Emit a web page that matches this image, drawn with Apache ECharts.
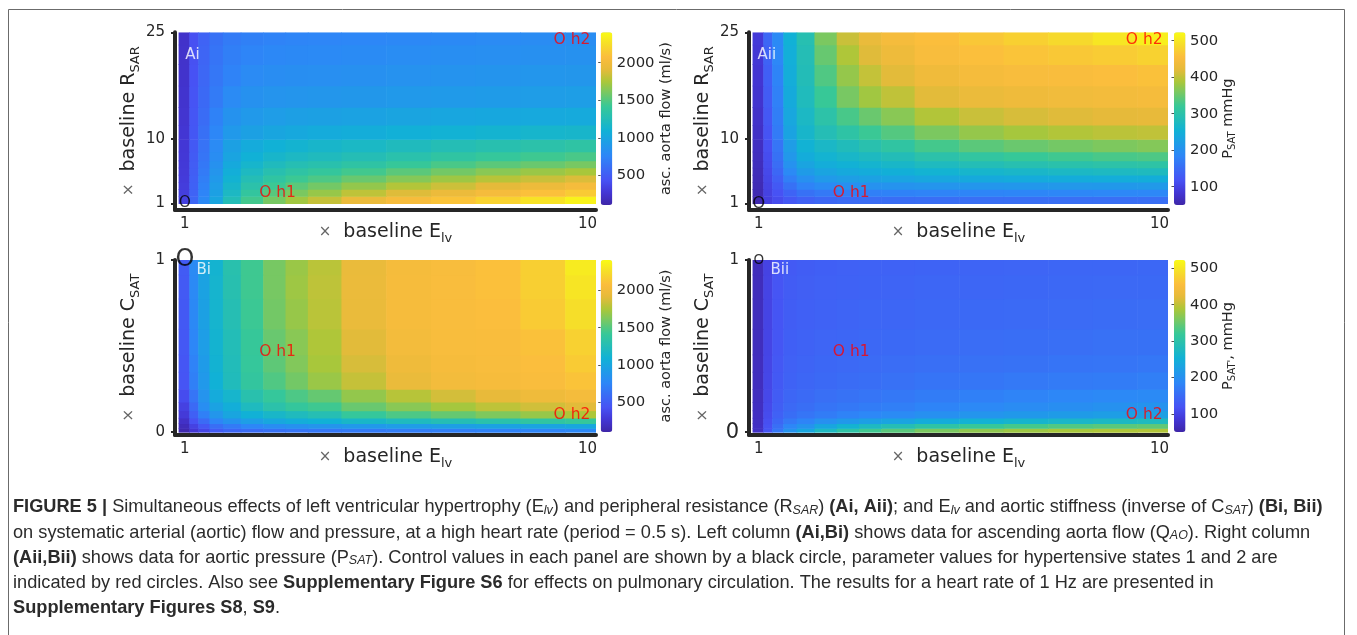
<!DOCTYPE html>
<html><head><meta charset="utf-8">
<script src="https://cdn.jsdelivr.net/npm/echarts@6/dist/echarts.min.js"></script>
<style>html,body{margin:0;padding:0;background:#fff}#c{width:1357px;height:635px}</style>
</head><body><div id="c"></div>
<script>
// ---------------- data ----------------
const xTicks = [1, 10];
const yTicksA = [1, 10, 25];
const yTicksB = [0, 1];
const flowTicks = [500, 1000, 1500, 2000];
const presTicks = [100, 200, 300, 400, 500];
const flowRange = [104, 2405];
const presRange = [50, 523];

// column centres (x baseline E_lv)
const E = [1, 1.2, 1.4, 1.7, 2, 2.5, 3, 3.5, 4, 5, 6, 7, 8, 9, 10];
// row centres (x baseline R_SAR) for panels A
const R = [1.5, 2.5, 3.5, 4.5, 5.5, 6.5, 7.5, 9, 11, 13, 16, 19, 22, 24.5];
// row centres (x baseline C_SAT) for panels B
const C = [0.01, 0.035, 0.065, 0.1, 0.15, 0.2, 0.3, 0.4, 0.5, 0.7, 0.85, 0.98];

// Ai: ascending aorta flow (ml/s), rows = R (bottom to top), cols = E
const flowAi = [
  [330, 560, 780, 1000, 1250, 1450, 1600, 1720, 1820, 1950, 2040, 2110, 2190, 2270, 2360],
  [320, 540, 750, 960, 1190, 1380, 1510, 1610, 1690, 1800, 1890, 1960, 2030, 2090, 2150],
  [310, 530, 730, 930, 1150, 1320, 1430, 1520, 1590, 1680, 1770, 1840, 1910, 1970, 2030],
  [300, 520, 710, 900, 1110, 1260, 1360, 1430, 1480, 1560, 1640, 1710, 1780, 1830, 1880],
  [290, 510, 690, 870, 1070, 1200, 1290, 1350, 1390, 1450, 1520, 1590, 1650, 1700, 1740],
  [285, 500, 670, 840, 1030, 1140, 1220, 1270, 1300, 1350, 1410, 1470, 1520, 1560, 1600],
  [280, 490, 650, 810, 990, 1090, 1150, 1190, 1220, 1260, 1310, 1360, 1400, 1440, 1470],
  [275, 480, 640, 790, 960, 1040, 1090, 1120, 1150, 1180, 1220, 1260, 1290, 1320, 1350],
  [265, 465, 620, 760, 900, 960, 1000, 1020, 1040, 1060, 1080, 1100, 1120, 1140, 1150],
  [255, 455, 600, 730, 850, 900, 930, 950, 960, 975, 990, 1005, 1015, 1025, 1035],
  [245, 445, 580, 690, 790, 840, 860, 870, 880, 890, 900, 910, 920, 930, 940],
  [240, 435, 565, 665, 740, 790, 810, 820, 825, 835, 845, 855, 865, 875, 880],
  [235, 425, 550, 645, 710, 750, 770, 780, 785, 795, 805, 815, 825, 835, 840],
  [230, 420, 540, 630, 690, 720, 740, 750, 755, 760, 770, 780, 790, 800, 810]
];
// Aii: aortic pressure P_SAT (mmHg), rows = R, cols = E
const presAii = [
  [56, 95, 110, 125, 137, 145, 150, 152, 153, 154, 155, 155, 155, 155, 155],
  [58, 98, 118, 140, 158, 168, 174, 177, 179, 181, 183, 184, 185, 186, 186],
  [60, 101, 127, 158, 180, 192, 200, 203, 205, 207, 209, 211, 212, 213, 214],
  [62, 104, 136, 175, 200, 215, 222, 227, 231, 236, 240, 243, 245, 246, 247],
  [64, 107, 145, 190, 218, 232, 240, 245, 250, 257, 263, 268, 272, 275, 278],
  [66, 110, 152, 203, 232, 246, 254, 260, 267, 277, 286, 293, 298, 302, 305],
  [68, 112, 158, 212, 245, 258, 267, 276, 285, 300, 311, 319, 325, 330, 333],
  [70, 115, 163, 220, 255, 270, 282, 295, 308, 328, 341, 350, 356, 361, 365],
  [73, 120, 170, 230, 265, 288, 305, 322, 337, 360, 375, 385, 392, 397, 400],
  [76, 125, 174, 236, 272, 302, 330, 350, 368, 392, 405, 413, 418, 422, 425],
  [80, 130, 178, 242, 280, 320, 358, 382, 400, 420, 430, 436, 440, 443, 445],
  [82, 135, 182, 246, 285, 335, 375, 402, 420, 437, 445, 450, 453, 456, 460],
  [85, 140, 186, 249, 288, 348, 390, 418, 435, 450, 458, 463, 467, 472, 478],
  [88, 145, 190, 252, 292, 360, 405, 428, 445, 457, 466, 476, 486, 500, 510]
];
// Bi: ascending aorta flow (ml/s), rows = C (bottom to top), cols = E
const flowBi = [
  [130, 265, 360, 490, 560, 600, 630, 650, 665, 680, 700, 715, 730, 750, 770],
  [170, 340, 470, 610, 690, 760, 810, 840, 870, 900, 930, 950, 970, 990, 1010],
  [220, 430, 590, 750, 850, 940, 1010, 1060, 1090, 1160, 1210, 1260, 1310, 1360, 1400],
  [290, 520, 720, 880, 1000, 1090, 1160, 1220, 1270, 1400, 1480, 1550, 1620, 1690, 1750],
  [335, 585, 815, 975, 1070, 1210, 1320, 1390, 1440, 1560, 1650, 1730, 1800, 1850, 1900],
  [400, 650, 860, 1040, 1140, 1300, 1400, 1480, 1550, 1680, 1780, 1860, 1930, 1980, 2020],
  [450, 720, 900, 1090, 1230, 1380, 1490, 1590, 1700, 1820, 1940, 2010, 2040, 2060, 2110],
  [460, 740, 920, 1110, 1240, 1400, 1530, 1630, 1740, 1870, 1980, 2040, 2050, 2080, 2150],
  [470, 760, 940, 1120, 1250, 1410, 1560, 1650, 1760, 1900, 2010, 2050, 2060, 2100, 2180],
  [480, 780, 960, 1130, 1270, 1430, 1590, 1690, 1790, 1940, 2040, 2060, 2080, 2150, 2250],
  [485, 785, 970, 1130, 1290, 1440, 1600, 1710, 1800, 1950, 2040, 2060, 2090, 2170, 2290],
  [490, 790, 1000, 1120, 1300, 1440, 1600, 1700, 1790, 1940, 2030, 2050, 2090, 2170, 2320]
];
// Bii: aortic pressure (mmHg), rows = C, cols = E
const presBii = [
  [73, 122, 165, 205, 235, 275, 305, 325, 340, 360, 372, 380, 386, 390, 392],
  [72, 117, 155, 185, 205, 235, 258, 275, 288, 305, 318, 328, 335, 340, 344],
  [71, 114, 145, 168, 182, 200, 213, 224, 232, 245, 255, 262, 268, 273, 277],
  [70, 110, 137, 153, 162, 172, 180, 186, 191, 200, 207, 213, 218, 222, 226],
  [69, 108, 133, 147, 154, 161, 166, 171, 175, 182, 188, 193, 197, 201, 204],
  [68, 106, 130, 143, 149, 155, 159, 163, 166, 172, 177, 181, 185, 188, 190],
  [67, 104, 127, 139, 144, 148, 151, 154, 157, 161, 164, 167, 170, 172, 175],
  [67, 103, 125, 137, 141, 145, 147, 150, 152, 155, 157, 159, 161, 163, 165],
  [66, 102, 123, 135, 139, 142, 144, 146, 148, 150, 152, 154, 155, 157, 158],
  [66, 101, 122, 132, 136, 139, 141, 143, 144, 146, 148, 149, 150, 151, 152],
  [65, 101, 121, 130, 134, 137, 139, 140, 141, 143, 144, 145, 146, 147, 148],
  [65, 100, 120, 128, 132, 135, 137, 138, 139, 140, 141, 142, 143, 144, 145]
];
// control (black circle) and hypertensive states h1, h2 (red)
const controlA = [1, 1];
const h1A = [2.65, 2.45];
const h2A = [9.23, 23.9];
const controlB = [1, 1];
const h1B = [2.65, 0.465];
const h2B = [9.23, 0.1];

// ---------------- styling / layout ----------------
const parula = ['#3e26a8', '#4336d4', '#4752f4', '#3a6cf5', '#2d87f7', '#1f9ce7', '#11b1d6', '#24bdb6',
                '#37c897', '#71c868', '#abc739', '#e6ba3a', '#fbbd3d', '#f6dc2a', '#f9fb15'];
const FONT = 'DejaVu Sans';
const INK = '#262626';
const X_MIN = 0.78, X_MAX = 10.19, X_LO = 0.86;

function edges(c, lo, hi) {
  const e = [lo];
  for (let i = 0; i < c.length - 1; i++) e.push((c[i] + c[i + 1]) / 2);
  e.push(hi);
  return e;
}
function cells(xs, ys, M, xlo, xhi, ylo, yhi) {
  const ex = edges(xs, xlo, xhi), ey = edges(ys, ylo, yhi), out = [];
  for (let j = 0; j < ys.length; j++)
    for (let i = 0; i < xs.length; i++)
      out.push([ex[i], ex[i + 1], ey[j], ey[j + 1], M[j][i]]);
  return out;
}

const panels = [
  {key: 'Ai',  grid: {left: 175, top: 32.3, width: 421, height: 177.7}, y: [0.06, 25], yTicks: yTicksA, yRows: R, yLo: 1, yHi: 25, M: flowAi, range: flowRange, cTicks: flowTicks,
   cb: {left: 600.7, top: 32.3, width: 11.6, height: 172.7}, yName: 'R{s|SAR}', cName: 'asc. aorta flow (ml/s)', cGap: 46,
   ctrl: controlA, h1: h1A, h2: h2A, ctrlSize: 15.5, tag: 'Ai', tagPos: [1.0, 21.8]},
  {key: 'Aii', grid: {left: 749, top: 32.3, width: 419, height: 177.7}, y: [0.06, 25], yTicks: yTicksA, yRows: R, yLo: 1, yHi: 25, M: presAii, range: presRange, cTicks: presTicks,
   cb: {left: 1174, top: 32.3, width: 11.5, height: 172.7}, yName: 'R{s|SAR}', cName: 'P{s|SAT} mmHg', cGap: 33,
   ctrl: controlA, h1: h1A, h2: h2A, ctrlSize: 16.5, tag: 'Aii', tagPos: [0.96, 21.8]},
  {key: 'Bi',  grid: {left: 175, top: 260, width: 421, height: 175}, y: [-0.0171, 1], yTicks: yTicksB, yRows: C, yLo: 0, yHi: 1, M: flowBi, range: flowRange, cTicks: flowTicks,
   cb: {left: 600.7, top: 260, width: 11.6, height: 172}, yName: 'C{s|SAT}', cName: 'asc. aorta flow (ml/s)', cGap: 46,
   ctrl: controlB, h1: h1B, h2: h2B, ctrlSize: 24, tag: 'Bi', tagPos: [1.25, 0.94]},
  {key: 'Bii', grid: {left: 749, top: 260, width: 419, height: 175}, y: [-0.0171, 1], yTicks: yTicksB, yRows: C, yLo: 0, yHi: 1, M: presBii, range: presRange, cTicks: presTicks,
   cb: {left: 1174, top: 260, width: 11.5, height: 172}, yName: 'C{s|SAT}', cName: "P{s|SAT'}, mmHg", cGap: 33,
   ctrl: controlB, h1: h1B, h2: h2B, ctrlSize: 13.5, tag: 'Bii', tagPos: [1.25, 0.94], bigZero: true}
];

const nameRich = {
  x: {fontSize: 15, color: '#666', fontFamily: FONT},
  s: {fontSize: 13, color: INK, fontFamily: FONT, padding: [13, 0, 0, 0]}
};
const cbRich = {
  s: {fontSize: 10, color: INK, fontFamily: FONT, padding: [9, 0, 0, 0]}
};

const grids = [], xAxes = [], yAxes = [], series = [], visualMaps = [];
panels.forEach((p, k) => {
  grids.push(Object.assign({containLabel: false, outerBoundsMode: 'none'}, p.grid));
  xAxes.push({
    gridIndex: k, type: 'value', min: X_MIN, max: X_MAX,
    axisLine: {show: true, onZero: false, lineStyle: {color: INK, width: 4}},
    axisTick: {show: false}, splitLine: {show: false},
    axisLabel: {customValues: xTicks, margin: 7, fontSize: 15, color: INK, fontFamily: FONT},
    name: '{x|×}  baseline E{s|lv}', nameLocation: 'middle', nameGap: 9.5, nameMoveOverlap: false,
    nameTextStyle: {fontSize: 19, color: INK, fontFamily: FONT, rich: nameRich}
  });
  yAxes.push({
    gridIndex: k, type: 'value', min: p.y[0], max: p.y[1],
    axisLine: {show: true, onZero: false, lineStyle: {color: INK, width: 4}},
    axisTick: {show: true, customValues: p.yTicks, length: 4, lineStyle: {color: INK, width: 2}},
    splitLine: {show: false},
    axisLabel: {customValues: p.yTicks, margin: 10, fontSize: 15, color: INK, fontFamily: FONT,
      formatter: p.bigZero ? (v => (v === 0 ? '{big|0}' : String(v))) : (v => String(v)),
      rich: {big: {fontSize: 21, color: INK, fontFamily: FONT}}},
    name: '{x|×}  baseline ' + p.yName, nameLocation: 'middle', nameGap: 33, nameRotate: 90, nameMoveOverlap: false,
    nameTextStyle: {fontSize: 19, color: INK, fontFamily: FONT, rich: nameRich}
  });
  const hmIndex = series.length;
  series.push({
    type: 'custom', xAxisIndex: k, yAxisIndex: k, clip: true, silent: true,
    encode: {x: [0, 1], y: [2, 3]},
    data: cells(E, p.yRows, p.M, X_LO, X_MAX, p.yLo, p.yHi),
    renderItem: (params, api) => {
      const a = api.coord([api.value(0), api.value(3)]);
      const b = api.coord([api.value(1), api.value(2)]);
      return {type: 'rect', shape: {x: a[0], y: a[1], width: b[0] - a[0] + 0.6, height: b[1] - a[1] + 0.6},
              style: {fill: api.visual('color')}};
    }
  });
  series.push({
    type: 'scatter', xAxisIndex: k, yAxisIndex: k, silent: true, symbolSize: 1, clip: false,
    itemStyle: {color: 'rgba(0,0,0,0)'},
    data: [
      {value: p.ctrl, label: {show: true, formatter: 'O', position: 'inside', color: '#000', fontSize: p.ctrlSize, fontFamily: FONT}},
      {value: p.h1, label: {show: true, formatter: 'O h1', position: 'right', distance: 0, color: '#ff0000', fontSize: 15.5, fontFamily: FONT}},
      {value: p.h2, label: {show: true, formatter: 'O h2', position: 'right', distance: 0, color: '#ff0000', fontSize: 15.5, fontFamily: FONT}},
      {value: p.tagPos, label: {show: true, formatter: p.tag, position: 'right', distance: 0, color: '#ffffff', fontSize: 15, fontFamily: FONT}}
    ]
  });
  visualMaps.push({
    type: 'continuous', seriesIndex: hmIndex, dimension: 4, min: p.range[0], max: p.range[1],
    inRange: {color: parula}, orient: 'vertical', calculable: false, hoverLink: false, padding: 0,
    left: p.cb.left, top: p.cb.top, itemWidth: p.cb.width, itemHeight: p.cb.height
  });
});
// colour-bar tick axes
panels.forEach((p, k) => {
  const gi = grids.length;
  grids.push(Object.assign({containLabel: false, outerBoundsMode: 'none'}, p.cb));
  xAxes.push({gridIndex: gi, type: 'value', min: 0, max: 1, show: false});
  yAxes.push({
    gridIndex: gi, type: 'value', position: 'right', min: p.range[0], max: p.range[1],
    axisLine: {show: false}, splitLine: {show: false},
    axisTick: {show: true, inside: true, length: 2.5, customValues: p.cTicks, lineStyle: {color: INK, width: 0.8}},
    axisLabel: {customValues: p.cTicks, margin: 4.5, fontSize: 14.8, color: INK, fontFamily: FONT, formatter: v => String(v)},
    name: p.cName, nameLocation: 'middle', nameRotate: 90, nameGap: p.cGap, nameMoveOverlap: false,
    nameTextStyle: {fontSize: 14.5, color: INK, fontFamily: FONT, rich: cbRich}
  });
});

// caption
const CAP_FONT = "'Liberation Sans', Arial, sans-serif";
const capRich = {
  b: {fontWeight: 'bold', color: '#111', fontFamily: CAP_FONT, fontSize: 19},
  i: {fontStyle: 'italic', color: '#2b2b2b', fontFamily: CAP_FONT, fontSize: 13, padding: [6, 0, 0, 0]}
};
const capLines = [
  '{b|FIGURE 5 |} Simultaneous effects of left ventricular hypertrophy (E{i|lv}) and peripheral resistance (R{i|SAR}) {b|(Ai, Aii)}; and E{i|lv} and aortic stiffness (inverse of C{i|SAT}) {b|(Bi, Bii)}',
  'on systematic arterial (aortic) flow and pressure, at a high heart rate (period = 0.5 s). Left column {b|(Ai,Bi)} shows data for ascending aorta flow (Q{i|AO}). Right column',
  '{b|(Aii,Bii)} shows data for aortic pressure (P{i|SAT}). Control values in each panel are shown by a black circle, parameter values for hypertensive states 1 and 2 are',
  'indicated by red circles. Also see {b|Supplementary Figure S6} for effects on pulmonary circulation. The results for a heart rate of 1 Hz are presented in',
  '{b|Supplementary Figures S8}, {b|S9}.'
];
const graphic = [
  {type: 'rect', silent: true, z: -10, shape: {x: 8.5, y: 9.5, width: 1336, height: 700},
   style: {fill: 'none', stroke: '#6b6b6b', lineWidth: 1}}
];
capLines.forEach((t, i) => {
  graphic.push({type: 'text', silent: true, x: 13, y: 507 + i * 25.3, scaleX: 0.958,
    style: {text: t, fontFamily: CAP_FONT, fontSize: 19, fill: '#2b2b2b', verticalAlign: 'middle', align: 'left', rich: capRich}});
});

const chart = echarts.init(document.getElementById('c'), null, {renderer: 'canvas'});
chart.setOption({
  animation: false,
  backgroundColor: '#ffffff',
  textStyle: {fontFamily: FONT},
  grid: grids, xAxis: xAxes, yAxis: yAxes, visualMap: visualMaps, series: series, graphic: graphic
});
</script></body></html>
